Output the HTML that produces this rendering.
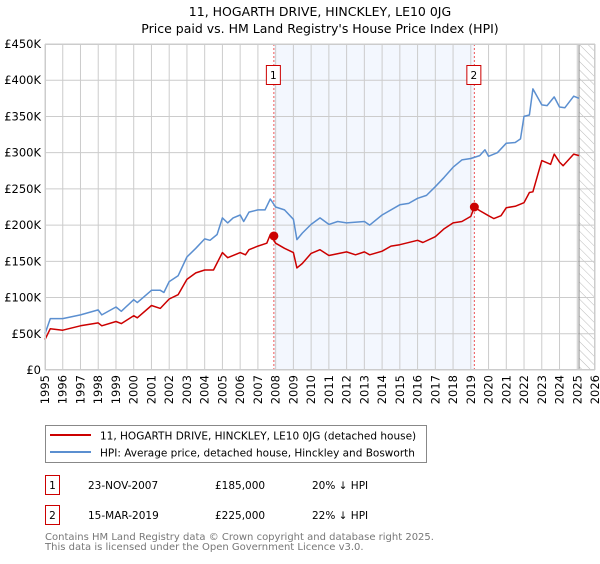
<!DOCTYPE html>
<html><head><meta charset="utf-8">
<style>
body{margin:0;background:#fff;font-family:"DejaVu Sans","Liberation Sans",sans-serif;}
svg text{font-family:"DejaVu Sans","Liberation Sans",sans-serif;}
</style></head>
<body>
<svg id="chart" width="600" height="560" xmlns="http://www.w3.org/2000/svg">
<defs>
<pattern id="hatch" width="6" height="6" patternUnits="userSpaceOnUse" patternTransform="rotate(-45)">
<line x1="0" y1="0" x2="0" y2="6" stroke="#bbb" stroke-width="1"/>
</pattern>
</defs>
<text x="320" y="16" text-anchor="middle" font-size="12.5">11, HOGARTH DRIVE, HINCKLEY, LE10 0JG</text>
<text x="320" y="33" text-anchor="middle" font-size="12.5">Price paid vs. HM Land Registry's House Price Index (HPI)</text>
<g id="plot"></g>
<g>
<rect x="45.5" y="425.5" width="381" height="37" fill="#fff" stroke="#888"/>
<line x1="50" y1="435" x2="91" y2="435" stroke="#cc0000" stroke-width="2"/>
<text x="100" y="439.5" font-size="10.5">11, HOGARTH DRIVE, HINCKLEY, LE10 0JG (detached house)</text>
<line x1="50" y1="452" x2="91" y2="452" stroke="#5b8fd0" stroke-width="2"/>
<text x="100" y="456.5" font-size="10.5">HPI: Average price, detached house, Hinckley and Bosworth</text>
</g>
<g font-size="10.5">
<rect x="45.5" y="475.5" width="14" height="19" fill="#fff" stroke="#cc0000"/>
<text x="52.5" y="489" text-anchor="middle">1</text>
<text x="88" y="489">23-NOV-2007</text>
<text x="215" y="489">£185,000</text>
<text x="312" y="489">20% ↓ HPI</text>
<rect x="45.5" y="505.5" width="14" height="19" fill="#fff" stroke="#cc0000"/>
<text x="52.5" y="519" text-anchor="middle">2</text>
<text x="88" y="519">15-MAR-2019</text>
<text x="215" y="519">£225,000</text>
<text x="312" y="519">22% ↓ HPI</text>
</g>
<text x="45" y="540" font-size="10" fill="#777">Contains HM Land Registry data © Crown copyright and database right 2025.</text>
<text x="45" y="550" font-size="10" fill="#777">This data is licensed under the Open Government Licence v3.0.</text>
</svg>
<script>
const hpiYears=[1995,1995.3,1996,1997,1998,1998.2,1999,1999.3,2000,2000.2,2001,2001.5,2001.7,2002,2002.5,2003,2003.5,2004,2004.3,2004.7,2005,2005.3,2005.6,2006,2006.2,2006.5,2007,2007.4,2007.7,2008,2008.5,2009,2009.2,2009.5,2010,2010.5,2011,2011.5,2012,2013,2013.3,2014,2015,2015.5,2016,2016.5,2017,2017.5,2018,2018.5,2019,2019.5,2019.8,2020,2020.5,2021,2021.5,2021.8,2022,2022.3,2022.5,2023,2023.3,2023.7,2024,2024.3,2024.8,2025.1];
const hpiValues=[50,71,71,76,83,76,87,81,97,93,110,110,107,122,130,156,168,181,179,187,210,203,210,214,205,218,221,221,236,225,221,208,180,189,201,210,201,205,203,205,200,214,228,230,237,241,253,266,280,290,292,296,304,295,300,313,314,319,350,352,388,366,365,377,363,362,378,375];
const redYears=[1995,1995.3,1996,1997,1998,1998.2,1999,1999.3,2000,2000.2,2001,2001.5,2002,2002.5,2003,2003.5,2004,2004.5,2005,2005.3,2006,2006.3,2006.5,2007,2007.5,2007.7,2008,2008.5,2009,2009.2,2009.5,2010,2010.5,2011,2012,2012.5,2013,2013.3,2014,2014.5,2015,2016,2016.3,2017,2017.5,2018,2018.5,2019,2019.2,2019.5,2020,2020.3,2020.7,2021,2021.5,2022,2022.3,2022.5,2023,2023.5,2023.7,2024,2024.2,2024.8,2025.1];
const redValues=[42,57,55,61,65,61,67,64,75,72,89,85,98,104,125,134,138,138,162,155,162,159,166,171,175,187,175,168,162,141,147,161,166,158,163,159,163,159,164,171,173,179,176,184,195,203,205,212,225,220,213,209,213,224,226,231,245,246,289,284,298,287,282,298,296];
const saleYears=[2007.9,2019.2];
const saleValues=[185,225];
const saleLabels=["1","2"];
const yTicks=[0,50,100,150,200,250,300,350,400,450];
const yTickLabels=["£0","£50K","£100K","£150K","£200K","£250K","£300K","£350K","£400K","£450K"];
const xTicks=[1995,1996,1997,1998,1999,2000,2001,2002,2003,2004,2005,2006,2007,2008,2009,2010,2011,2012,2013,2014,2015,2016,2017,2018,2019,2020,2021,2022,2023,2024,2025,2026];

const L=45,R=595,T=44,B=370,Y0=1995,Y1=2026,VMAX=450;
const xs=y=>L+(y-Y0)/(Y1-Y0)*(R-L);
const ys=v=>B-v/VMAX*(B-T);
const NS="http://www.w3.org/2000/svg";
const g=document.getElementById('plot');
function mk(tag,attrs,parent){const e=document.createElementNS(NS,tag);for(const k in attrs)e.setAttribute(k,attrs[k]);(parent||g).appendChild(e);return e;}

const shade=mk('rect',{x:xs(saleYears[0]),y:T,width:xs(saleYears[1])-xs(saleYears[0]),height:B-T,fill:'#eef3fd',opacity:0.7});


const hat=mk('rect',{x:xs(2025.1),y:T,width:R-xs(2025.1),height:B-T,fill:'url(#hatch)'});



yTicks.forEach((v,i)=>{
  const ln=mk('line',{x1:L,x2:R,y1:ys(v),y2:ys(v),stroke:'#cccccc','stroke-width':1});
  
  
  const t=mk('text',{x:L-4,y:ys(v)+4,'text-anchor':'end','font-size':'11.5'});
  t.textContent=yTickLabels[i];
  
  
});
xTicks.forEach(y=>{
  const ln=mk('line',{x1:xs(y),x2:xs(y),y1:T,y2:B,stroke:'#cccccc','stroke-width':1});
  
  
  const t=mk('text',{x:0,y:0,'font-size':'11.5','text-anchor':'end',transform:`translate(${xs(y)+4},${B+5}) rotate(-90)`});
  t.textContent=y;
  
  
});
const tl=mk('line',{x1:xs(2025.1),x2:xs(2025.1),y1:T,y2:B,stroke:'#888','stroke-width':1});



saleYears.forEach((y,i)=>{
  const d=mk('line',{x1:xs(y),x2:xs(y),y1:T,y2:B,stroke:'#ee5555','stroke-width':1,'stroke-dasharray':'2,2'});
  
  
});

function path(xa,va,color,name){
  const d=xa.map((y,i)=>(i?'L':'M')+xs(y).toFixed(1)+','+ys(va[i]).toFixed(1)).join('');
  const p=mk('path',{d:d,fill:'none',stroke:color,'stroke-width':1.5,'stroke-linejoin':'round'});
  
  
}
path(hpiYears,hpiValues,'#5b8fd0','hpi-line');
path(redYears,redValues,'#cc0000','price-paid-line');

saleYears.forEach((y,i)=>{
  const c=mk('circle',{cx:xs(y),cy:ys(saleValues[i]),r:4.5,fill:'#cc0000'});
  
  
  const bx=xs(y)-7;
  const r=mk('rect',{x:bx-0.5,y:65.5,width:14,height:19,fill:'#fff',stroke:'#cc0000'});
  
  
  const t=mk('text',{x:xs(y)-0.5,y:79,'text-anchor':'middle','font-size':'10.5'});
  t.textContent=saleLabels[i];
  
  
});
const fr=mk('rect',{x:L+0.5,y:T+0.5,width:R-L-1,height:B-T-1,fill:'none',stroke:'#cccccc'});


</script>
</body></html>
